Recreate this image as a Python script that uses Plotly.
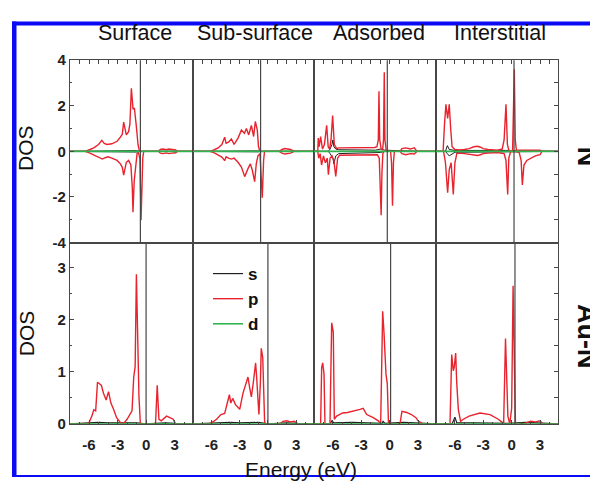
import plotly.graph_objects as go

# ---------------- data ----------------
columns = ["Surface", "Sub-surface", "Adsorbed", "Interstitial"]
row_labels = ["N", "Au-N"]
energy_ticks = [-6, -3, 0, 3]
top_dos_ticks = [-4, -2, 0, 2, 4]
bot_dos_ticks = [0, 1, 2, 3]

# Fermi-level markers (eV) in the upper (N) and lower (Au-N) panels
fermi_top = [-0.6, -0.78, -0.25, 0.25]
fermi_bot = [0.0, 0.0, 0.1, 0.35]

# ---- upper panels: N, spin-resolved (up > 0, down < 0) ----
surf_p_up_E = [-8, -6.4, -5.9, -5.5, -5.0, -4.65, -4.4, -4.1, -3.6, -3.3, -3.05, -2.7, -2.5, -2.36, -2.2, -2.08, -1.84, -1.7, -1.55, -1.45, -1.37, -1.23, -1.1, -1.02, -0.85, -0.7, 1.3, 1.5, 1.8, 2.1, 2.4, 2.7, 3.1, 3.3, 4.9]
surf_p_up = [0, 0, 0.08, 0.15, 0.3, 0.48, 0.35, 0.3, 0.33, 0.38, 0.44, 0.62, 0.75, 1.28, 0.9, 0.72, 0.86, 1.2, 2.77, 2.2, 1.85, 1.9, 1.5, 1.07, 0.3, 0, 0, 0.08, 0.1, 0.07, 0.1, 0.08, 0.06, 0, 0]
surf_p_dn_E = [-8, -6.4, -5.9, -5.5, -5.0, -4.6, -4.3, -4.0, -3.6, -3.3, -3.05, -2.7, -2.5, -2.36, -2.2, -2.08, -1.84, -1.6, -1.45, -1.38, -1.25, -1.1, -0.95, -0.8, -0.65, -0.53, -0.45, -0.35, -0.25, 1.3, 1.5, 1.8, 2.1, 2.4, 2.7, 3.1, 3.3, 4.9]
surf_p_dn = [0, 0, -0.08, -0.15, -0.25, -0.34, -0.28, -0.24, -0.3, -0.34, -0.4, -0.55, -0.7, -1.04, -0.7, -0.48, -0.4, -0.6, -1.6, -2.67, -1.3, -0.6, -0.1, -0.05, -0.33, -3.02, -1.5, -0.3, 0, 0, -0.08, -0.1, -0.07, -0.1, -0.08, -0.06, 0, 0]
surf_s_E = [-8, -6, -4, -2, -1, -0.6, 1.5, 2.5, 3.2, 4.9]
surf_s_up = [0, 0.01, 0.02, 0.02, 0.03, 0, 0.02, 0.03, 0.01, 0]
surf_s_dn = [0, -0.01, -0.02, -0.02, -0.03, 0, -0.02, -0.03, -0.01, 0]

sub_p_up_E = [-8, -6.17, -5.7, -5.3, -4.9, -4.6, -4.45, -4.2, -3.88, -3.6, -3.18, -2.82, -2.5, -2.29, -2.04, -1.76, -1.52, -1.34, -1.13, -1.0, -0.85, 1.2, 1.5, 1.8, 2.1, 2.4, 2.8, 4.9]
sub_p_up = [0, 0, 0.07, 0.15, 0.3, 0.62, 0.35, 0.4, 0.54, 0.3, 0.58, 0.93, 0.79, 1.0, 0.72, 1.14, 0.65, 1.31, 0.93, 0.2, 0, 0, 0.08, 0.12, 0.1, 0.08, 0, 0]
sub_p_dn_E = [-8, -6.17, -5.7, -5.3, -4.9, -4.6, -4.45, -4.2, -3.88, -3.6, -3.18, -2.82, -2.47, -2.12, -1.87, -1.66, -1.41, -1.24, -1.06, -0.85, -0.71, -0.6, -0.46, -0.36, 1.2, 1.5, 1.8, 2.1, 2.4, 2.8, 4.9]
sub_p_dn = [0, 0, -0.07, -0.15, -0.25, -0.41, -0.24, -0.3, -0.34, -0.3, -0.48, -0.69, -1.11, -0.76, -0.55, -0.83, -1.33, -0.55, -0.2, -0.1, -1.33, -2.03, -0.4, 0, 0, -0.08, -0.12, -0.1, -0.08, 0, 0]
sub_s_E = [-8, -6, -4, -2, -1, -0.7, 1.5, 2.5, 3.2, 4.9]
sub_s_up = [0, 0.01, 0.02, 0.02, 0.02, 0, 0.02, 0.03, 0.01, 0]
sub_s_dn = [0, -0.01, -0.02, -0.02, -0.02, 0, -0.02, -0.03, -0.01, 0]

ads_p_up_E = [-8, -7.6, -7.55, -7.45, -7.3, -7.1, -6.9, -6.66, -6.5, -6.35, -6.2, -6.03, -5.85, -5.6, -5.4, -4.5, -3.5, -2.5, -1.6, -1.35, -1.2, -1.13, -1.05, -0.9, -0.75, -0.65, -0.57, -0.5, -0.35, 1.1, 1.3, 1.7, 2.2, 2.6, 2.9, 4.9]
ads_p_up = [0, 0, 0.58, 0.2, 0.65, 0.1, 0.3, 1.14, 0.2, 0.1, 0.5, 1.57, 0.3, 0.12, 0.15, 0.15, 0.15, 0.16, 0.17, 0.2, 0.5, 2.63, 0.5, 0.1, 0.05, 0.5, 3.47, 0.5, 0, 0, 0.12, 0.15, 0.1, 0.15, 0, 0]
ads_p_dn_E = [-8, -7.6, -7.5, -7.35, -7.2, -7.0, -6.8, -6.6, -6.48, -6.3, -6.1, -5.9, -5.7, -5.5, -5.3, -4.5, -3.5, -2.5, -1.6, -1.3, -1.1, -1.0, -0.9, -0.82, -0.72, -0.6, 0.1, 0.2, 0.3, 0.4, 0.5, 1.1, 1.3, 1.7, 2.2, 2.6, 2.9, 4.9]
ads_p_dn = [0, 0, -0.3, -0.1, -0.6, -0.2, -0.5, -0.3, -1.02, -0.3, -0.2, -0.4, -1.1, -0.3, -0.17, -0.17, -0.17, -0.17, -0.17, -0.15, -0.3, -1.5, -2.8, -1.0, -0.1, 0, 0, -0.5, -2.39, -0.5, 0, 0, -0.1, -0.15, -0.1, -0.12, 0, 0]
ads_s_E = [-8, -6.5, -6.3, -6.1, -6.0, -5.9, -5.7, -5.4, -3, -1.5, -1.0, -0.5, 1.5, 2.5, 4.9]
ads_s_up = [0, 0, 0.1, 0.3, 0.5, 0.2, 0.1, 0.07, 0.06, 0.05, 0.1, 0.05, 0.02, 0.01, 0]
ads_s_dn = [0, 0, -0.1, -0.2, -0.3, -0.55, -0.2, -0.1, -0.08, -0.06, -0.05, 0, -0.02, -0.01, 0]

int_p_up_E = [-8, -7.25, -7.1, -6.95, -6.77, -6.6, -6.45, -6.3, -6.0, -5.5, -5.0, -4.5, -4.0, -3.6, -3.3, -3.0, -2.5, -2.0, -1.5, -1.0, -0.8, -0.6, -0.45, -0.3, -0.1, 0.1, 0.2, 0.28, 0.38, 0.5, 1.0, 1.5, 2.0, 2.5, 3.0, 3.2, 4.9]
int_p_up = [0, 0, 1.2, 2.06, 1.44, 2.06, 1.0, 0.2, 0.08, 0.06, 0.08, 0.12, 0.2, 0.22, 0.18, 0.12, 0.08, 0.06, 0.05, 0.1, 0.5, 2.06, 0.3, 0.05, 0, 0.05, 1.5, 3.6, 0.5, 0.05, 0.05, 0.05, 0.06, 0.06, 0.05, 0, 0]
int_p_dn_E = [-8, -7.2, -7.0, -6.77, -6.6, -6.4, -6.17, -6.0, -5.8, -5.5, -5.0, -4.5, -4.0, -3.6, -3.3, -3.0, -2.5, -2.0, -1.5, -0.8, -0.6, -0.42, -0.3, -0.1, 0.2, 0.5, 0.8, 1.0, 1.13, 1.3, 1.6, 2.0, 2.5, 3.0, 3.2, 4.9]
int_p_dn = [0, 0, -0.5, -1.82, -0.8, -0.5, -1.89, -0.5, -0.1, -0.08, -0.1, -0.12, -0.15, -0.18, -0.15, -0.1, -0.08, -0.06, -0.05, -0.1, -0.4, -1.89, -0.3, 0, 0, -0.02, -0.05, -0.4, -1.47, -0.6, -0.4, -0.3, -0.2, -0.15, 0, 0]
int_s_E = [-8, -7.0, -6.8, -6.6, -6.0, -4, -2, -0.5, 1.5, 2.5, 4.9]
int_s_up = [0, 0, 0.25, 0.08, 0.04, 0.05, 0.03, 0.04, 0.02, 0.01, 0]
int_s_dn = [0, 0, -0.1, -0.2, -0.04, -0.05, -0.03, -0.02, -0.02, -0.01, 0]

# ---- lower panels: Au-N ----
surf_bot_p_E = [-8, -6.06, -5.7, -5.5, -5.3, -5.11, -4.9, -4.7, -4.48, -4.2, -3.95, -3.7, -3.42, -3.1, -2.71, -2.4, -2.0, -1.48, -1.3, -1.15, -1.02, -0.87, -0.75, -0.6, 0.99, 1.17, 1.35, 1.6, 1.9, 2.15, 2.5, 2.85, 3.1, 4.9]
surf_bot_p = [0, 0, 0.15, 0.27, 0.25, 0.8, 0.77, 0.74, 0.59, 0.46, 0.62, 0.4, 0.28, 0.12, 0.03, 0, 0.09, 0.25, 0.9, 1.1, 2.87, 1.76, 0.52, 0, 0, 0.74, 0.09, 0.06, 0.1, 0.15, 0.12, 0.09, 0, 0]
surf_bot_s_E = [-8, -6, -5, -4, -3, -2, -1, 0, 1, 2, 3, 4.9]
surf_bot_s = [0, 0.02, 0.03, 0.02, 0.02, 0.01, 0.02, 0, 0.01, 0.02, 0.01, 0]

sub_bot_p_E = [-8, -6.17, -5.46, -5.0, -4.6, -4.24, -4.1, -3.95, -3.75, -3.45, -3.0, -2.65, -2.35, -2.12, -1.95, -1.76, -1.55, -1.31, -1.2, -0.96, -0.8, -0.71, -0.55, -0.35, -0.2, 1.3, 1.6, 2.0, 2.4, 2.8, 3.2, 4.9]
sub_bot_p = [0, 0, 0.09, 0.18, 0.2, 0.46, 0.56, 0.4, 0.49, 0.37, 0.28, 0.59, 0.75, 0.9, 0.7, 0.52, 0.8, 1.17, 0.9, 0.18, 0.8, 1.45, 1.27, 0.03, 0, 0, 0.05, 0.06, 0.04, 0.05, 0, 0]
sub_bot_s_E = [-8, -6, -5, -4, -3, -2, -1, 0, 1, 2, 3, 4.9]
sub_bot_s = [0, 0.01, 0.02, 0.03, 0.02, 0.02, 0.03, 0, 0.01, 0.02, 0.01, 0]

ads_bot_p_E = [-8, -7.3, -7.19, -7.08, -6.94, -6.84, -6.31, -6.13, -5.96, -5.85, -5.61, -5.3, -4.97, -4.45, -3.9, -3.14, -2.8, -2.43, -1.73, -1.2, -0.95, -0.74, -0.6, -0.39, -0.25, -0.12, 1.09, 1.3, 1.8, 2.3, 2.78, 3.0, 3.5, 4.9]
ads_bot_p = [0, 0, 1.08, 1.17, 0.96, 0, 0, 1.94, 1.76, 0.09, 0.15, 0.18, 0.21, 0.22, 0.24, 0.28, 0.3, 0.18, 0.12, 0.06, 0, 2.16, 1.76, 0.96, 0.77, 0, 0, 0.24, 0.22, 0.18, 0.12, 0.06, 0, 0]
ads_bot_s_E = [-8, -6.3, -6.1, -5.9, -4, -2, -0.8, -0.7, -0.5, 1.5, 2.5, 4.9]
ads_bot_s = [0, 0, 0.06, 0.02, 0.03, 0.02, 0.01, 0.05, 0.01, 0.03, 0.02, 0]

int_bot_p_E = [-8, -6.52, -6.34, -6.17, -6.06, -5.92, -5.81, -5.64, -5.4, -5.11, -4.5, -3.35, -2.29, -1.41, -1.0, -0.85, -0.65, -0.5, -0.4, -0.2, 0.0, 0.15, 0.3, 0.4, 1.2, 1.6, 2.0, 2.5, 3.0, 3.3, 4.9]
int_bot_p = [0, 0, 1.33, 1.02, 1.1, 1.36, 0.8, 0.28, 0.05, 0.09, 0.15, 0.21, 0.18, 0.09, 0.03, 0, 1.64, 0.5, 0.15, 0, 0.3, 2.65, 1.0, 0, 0, 0.03, 0.05, 0.04, 0.06, 0, 0]
int_bot_s_E = [-8, -6.3, -6.0, -5.8, -4, -2, -0.5, 1.5, 2.5, 4.9]
int_bot_s = [0, 0, 0.13, 0.02, 0.02, 0.02, 0.01, 0.03, 0.02, 0]

# d-states: flat at zero over the whole window
d_E = [-8, 4.9]
d_val = [0, 0]

# ---------------- grouping ----------------
top_p_up = [(surf_p_up_E, surf_p_up), (sub_p_up_E, sub_p_up), (ads_p_up_E, ads_p_up), (int_p_up_E, int_p_up)]
top_p_dn = [(surf_p_dn_E, surf_p_dn), (sub_p_dn_E, sub_p_dn), (ads_p_dn_E, ads_p_dn), (int_p_dn_E, int_p_dn)]
top_s = [(surf_s_E, surf_s_up, surf_s_dn), (sub_s_E, sub_s_up, sub_s_dn), (ads_s_E, ads_s_up, ads_s_dn), (int_s_E, int_s_up, int_s_dn)]
bot_p = [(surf_bot_p_E, surf_bot_p), (sub_bot_p_E, sub_bot_p), (ads_bot_p_E, ads_bot_p), (int_bot_p_E, int_bot_p)]
bot_s = [(surf_bot_s_E, surf_bot_s), (sub_bot_s_E, sub_bot_s), (ads_bot_s_E, ads_bot_s), (int_bot_s_E, int_bot_s)]

# ---------------- styling ----------------
W, H = 590, 485
FONT = "Liberation Sans, Arial, sans-serif"
C_S, C_P, C_D = "#1e1e1e", "#e8232d", "#2fb450"
FRAME = "#474747"
col_px = [70, 192.7, 314, 436, 558]
top_px = (53, 242)
bot_px = (242, 430)
xr = [-8, 4.9]

def fx(px):
    return px / W

def fy(py):
    return 1 - py / H

def lab(v):
    return str(v).replace("\u2212", "-")

fig = go.Figure()

for c in range(4):
    ti, bi = c + 1, c + 5
    tx, ty = ("x" if ti == 1 else f"x{ti}"), ("y" if ti == 1 else f"y{ti}")
    bx, by = f"x{bi}", f"y{bi}"
    sE, sup, sdn = top_s[c]
    fig.add_trace(go.Scatter(x=sE, y=sup, mode="lines", line=dict(color=C_S, width=1.0), xaxis=tx, yaxis=ty, showlegend=False))
    fig.add_trace(go.Scatter(x=sE, y=sdn, mode="lines", line=dict(color=C_S, width=1.0), xaxis=tx, yaxis=ty, showlegend=False))
    fig.add_trace(go.Scatter(x=top_p_up[c][0], y=top_p_up[c][1], mode="lines", line=dict(color=C_P, width=1.4), xaxis=tx, yaxis=ty, showlegend=False))
    fig.add_trace(go.Scatter(x=top_p_dn[c][0], y=top_p_dn[c][1], mode="lines", line=dict(color=C_P, width=1.4), xaxis=tx, yaxis=ty, showlegend=False))
    fig.add_trace(go.Scatter(x=d_E, y=d_val, mode="lines", line=dict(color=C_D, width=1.8), xaxis=tx, yaxis=ty, showlegend=False))

    show = c == 0
    fig.add_trace(go.Scatter(x=bot_s[c][0], y=bot_s[c][1], mode="lines", name="s", line=dict(color=C_S, width=1.2), xaxis=bx, yaxis=by, showlegend=show))
    fig.add_trace(go.Scatter(x=bot_p[c][0], y=bot_p[c][1], mode="lines", name="p", line=dict(color=C_P, width=1.4), xaxis=bx, yaxis=by, showlegend=show))
    fig.add_trace(go.Scatter(x=d_E, y=d_val, mode="lines", name="d", line=dict(color=C_D, width=1.6), xaxis=bx, yaxis=by, showlegend=show, cliponaxis=False))

    dom_x = [fx(col_px[c]), fx(col_px[c + 1])]
    base_ax = dict(showgrid=False, zeroline=False, showline=True, linecolor=FRAME, linewidth=1.2, mirror=True,
                   tickcolor=FRAME, tickfont=dict(family=FONT, size=15, color="#222", weight="bold"))
    # top row x axis
    fig.layout[f"xaxis{ti if ti > 1 else ''}"] = dict(base_ax, domain=dom_x, anchor=ty, range=xr, side="top",
                                                   ticks="inside", ticklen=4, dtick=1, tick0=0, showticklabels=False)
    # bottom row x axis
    fig.layout[f"xaxis{bi}"] = dict(base_ax, domain=dom_x, anchor=by, range=xr, side="bottom",
                                    ticks="inside", ticklen=4, tickvals=energy_ticks, ticktext=[lab(v) for v in energy_ticks],
                                    ticklabelstandoff=7,
                                    minor=dict(ticks="inside", ticklen=2, dtick=1, tick0=0, tickcolor=FRAME))
    ytop = dict(base_ax, domain=[fy(top_px[1]), fy(top_px[0])], anchor=tx, range=[-4, 4])
    ybot = dict(base_ax, domain=[fy(bot_px[1]), fy(bot_px[0])], anchor=bx, range=[0, 3.48])
    if c == 0:
        ytop.update(ticks="inside", ticklen=4, tickvals=top_dos_ticks, ticktext=[lab(v) for v in top_dos_ticks],
                    showticklabels=True, minor=dict(ticks="inside", ticklen=2, dtick=1, tick0=0, tickcolor=FRAME))
        ybot.update(ticks="inside", ticklen=4, tickvals=bot_dos_ticks, ticktext=[lab(v) for v in bot_dos_ticks],
                    showticklabels=True, minor=dict(ticks="inside", ticklen=2, dtick=0.5, tick0=0, tickcolor=FRAME))
    elif c == 3:
        ytop.update(side="right", ticks="inside", ticklen=4, dtick=1, tick0=0, showticklabels=False)
        ybot.update(side="right", ticks="inside", ticklen=4, dtick=0.5, tick0=0, showticklabels=False)
    else:
        ytop.update(ticks="", showticklabels=False)
        ybot.update(ticks="", showticklabels=False)
    fig.layout[f"yaxis{ti if ti > 1 else ''}"] = ytop
    fig.layout[f"yaxis{bi}"] = ybot

    # Fermi-level lines
    fig.add_shape(type="line", xref=tx, yref=f"{ty} domain", x0=fermi_top[c], x1=fermi_top[c], y0=0, y1=1,
                  line=dict(color=FRAME, width=1.2))
    fig.add_shape(type="line", xref=bx, yref=f"{by} domain", x0=fermi_bot[c], x1=fermi_bot[c], y0=0, y1=1,
                  line=dict(color=FRAME, width=1.2))

# ---------------- text ----------------
title_px = [135, 255, 379, 500]
for name, px in zip(columns, title_px):
    fig.add_annotation(text=name, x=fx(px), y=fy(25), xref="paper", yref="paper", showarrow=False,
                       xanchor="center", yanchor="middle", font=dict(family=FONT, size=21.5, color="#111"))
for py in (144, 336):
    fig.add_annotation(text="DOS", x=fx(26), y=fy(py), xref="paper", yref="paper", showarrow=False, textangle=-90,
                       xanchor="center", yanchor="middle", font=dict(family=FONT, size=21, color="#111"))
fig.add_annotation(text="Energy (eV)", x=fx(301), y=fy(477), xref="paper", yref="paper", showarrow=False,
                   xanchor="center", yanchor="middle", font=dict(family=FONT, size=21, color="#111"))
for lab_txt, py in zip(row_labels, (153, 339)):
    fig.add_annotation(text=lab_txt, x=fx(587), y=fy(py), xref="paper", yref="paper", showarrow=False, textangle=90,
                       xanchor="center", yanchor="middle", font=dict(family=FONT, size=27, color="#111", weight="bold"))

# ---------------- blue frame of the cropped figure ----------------
BLUE = "#0a0af5"
fig.add_shape(type="rect", xref="paper", yref="paper", x0=fx(12), x1=fx(16.5), y0=0, y1=fy(13), fillcolor=BLUE, line_width=0, layer="above")
fig.add_shape(type="rect", xref="paper", yref="paper", x0=fx(12), x1=1, y0=fy(17), y1=fy(13), fillcolor=BLUE, line_width=0, layer="above")
fig.add_shape(type="rect", xref="paper", yref="paper", x0=fx(12), x1=1, y0=0, y1=fy(483), fillcolor=BLUE, line_width=0, layer="above")

fig.update_layout(
    width=W, height=H, margin=dict(l=0, r=0, t=0, b=0),
    paper_bgcolor="white", plot_bgcolor="rgba(0,0,0,0)",
    font=dict(family=FONT, color="#111"),
    legend=dict(x=fx(208), y=fy(256), xanchor="left", yanchor="top", bgcolor="rgba(0,0,0,0)",
                font=dict(family=FONT, size=17, color="#111", weight="bold"), tracegroupgap=0, itemwidth=30),
)

fig.write_html("out.html")
